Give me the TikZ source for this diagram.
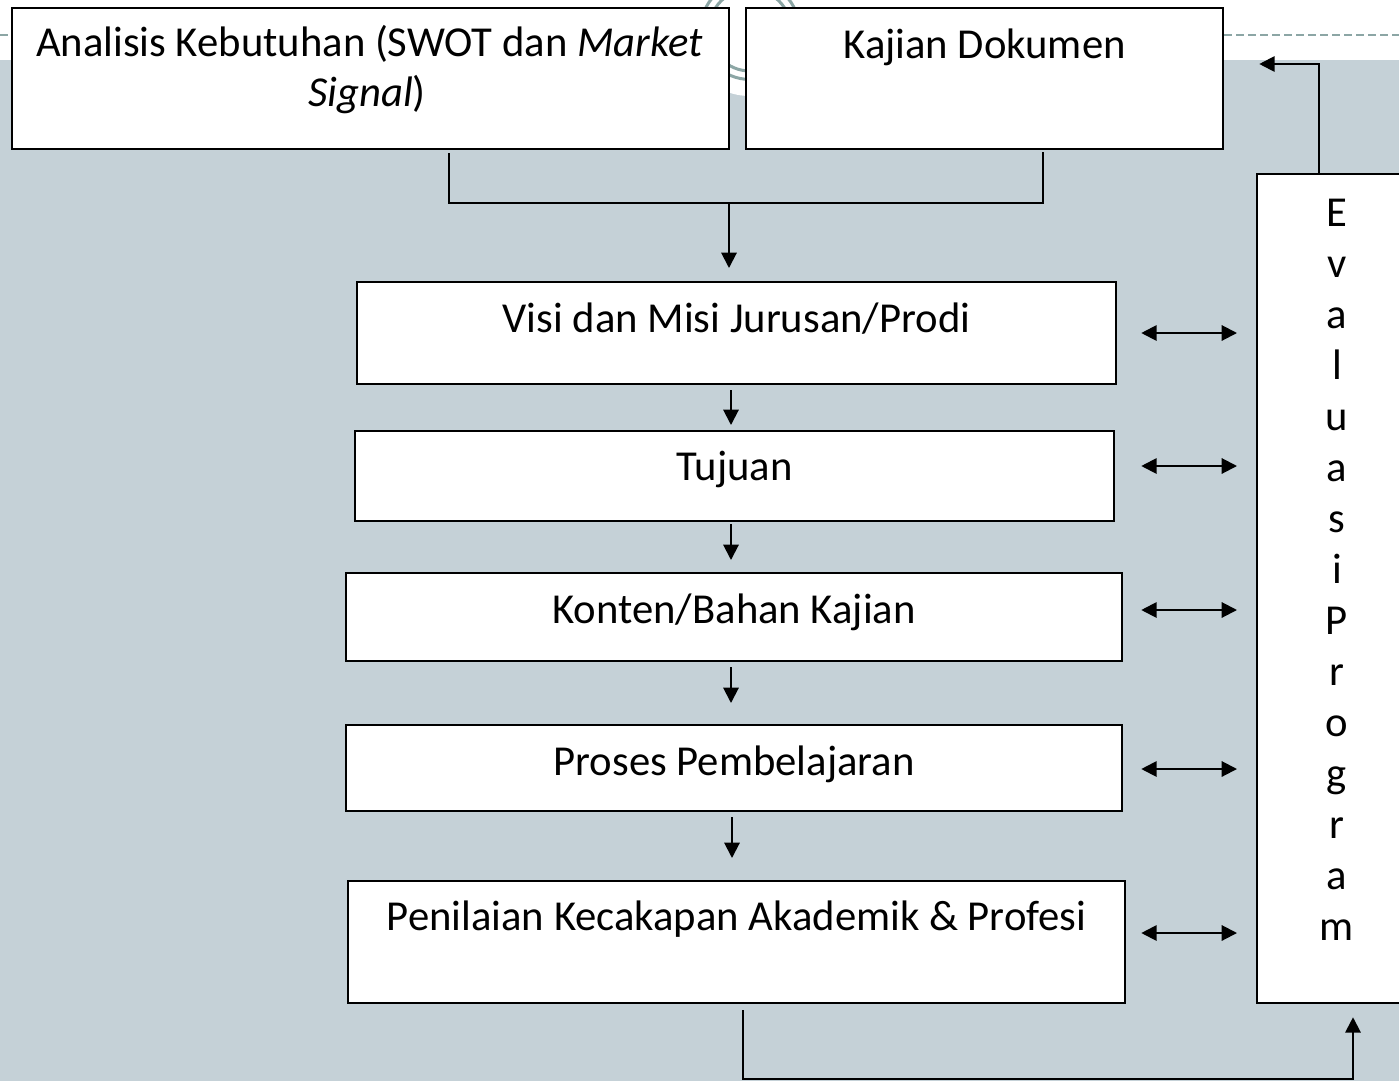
\documentclass[tikz,border=0pt]{standalone}
\usepackage{fontspec}
\setmainfont{Carlito}
\usetikzlibrary{arrows.meta}
\definecolor{bggray}{RGB}{197,209,215}
\definecolor{decoteal}{RGB}{140,166,165}
\begin{document}
\begin{tikzpicture}[x=0.75pt,y=-0.75pt,
  txt/.style={font=\fontsize{32}{38.25}\selectfont},
  box/.style={draw=black, line width=1.7pt, fill=white, inner sep=0pt, anchor=north west, txt},
  conn/.style={line width=1.5pt, black},
  arr/.style={conn, -{Triangle[length=11.5pt,width=11.5pt]}},
  darr/.style={conn, {Triangle[length=11.5pt,width=11.5pt]}-{Triangle[length=11.5pt,width=11.5pt]}}]
\clip (0,0) rectangle (1399,1081);
\fill[white] (0,0) rectangle (1399,1081);
\fill[bggray] (0,60) rectangle (1399,1081);
\draw[decoteal, line width=1.5pt, dash pattern=on 6pt off 3pt] (0,35) -- (1399,35);
\fill[white] (750,30) circle[radius=49.5pt];
\draw[decoteal, line width=2.25pt] (750,30) circle[radius=30.75pt];
\draw[decoteal, line width=2.25pt] (750,30) circle[radius=37.1pt];
% boxes
\node[box, minimum width=537.75pt, minimum height=105.75pt] (A) at (11,7) {};
\node[txt, anchor=base, inner sep=0pt] (A1) at (369.5,57) {Analisis Kebutuhan (SWOT dan \textit{Market}};
\node[txt, anchor=base, inner sep=0pt] (A2) at (367,107) {\textit{Signal})};
\node[box, minimum width=357.75pt, text height=37.5pt, text depth=68.25pt] (B) at (745,7) {Kajian Dokumen};
\node[box, minimum width=569.25pt, text height=37.5pt, text depth=39pt] (visi) at (356,281) {Visi dan Misi Jurusan/Prodi};
\node[box, minimum width=569.25pt, text height=36.75pt, text depth=30.75pt] (tujuan) at (354,430) {Tujuan};
\node[box, minimum width=582pt, text height=37.5pt, text depth=28.5pt] (konten) at (345,572) {Konten/Bahan Kajian};
\node[box, minimum width=582pt, text height=37.5pt, text depth=27pt] (proses) at (345,724) {Proses Pembelajaran};
\node[box, minimum width=582.75pt, text height=36.75pt, text depth=54.75pt] (pen) at (347,880) {Penilaian Kecakapan Akademik \& Profesi};
\node[box, minimum width=121.5pt, minimum height=621.75pt] (evalbox) at (1256,173) {};
\node[txt, anchor=north, inner sep=0pt, align=center] (evaltext) at (1337,199) {E\\v\\a\\l\\u\\a\\s\\i\\P\\r\\o\\g\\r\\a\\m};
% coordinates
\coordinate (jA) at (449,153);
\coordinate (jM) at (729,203);
\coordinate (jB) at (1043,152);
\coordinate (vx) at (731,0);
\coordinate (vx2) at (732,0);
\coordinate (d1) at (0,333);
\coordinate (d2) at (0,466);
\coordinate (d3) at (0,610);
\coordinate (d4) at (0,769);
\coordinate (d5) at (0,933);
\coordinate (k1) at (1319,64);
\coordinate (p1) at (743,1079);
\coordinate (p2) at (1353,1079);
% connectors
\draw[conn] (jA) |- (jM) -| (jB);
\draw[arr, shorten >=9.75pt] (jM) -- (jM |- visi.north);
\draw[arr, shorten <=3.75pt, shorten >=3.75pt] (vx |- visi.south) -- (vx |- tujuan.north);
\draw[arr, shorten <=1.5pt, shorten >=9pt] (vx |- tujuan.south) -- (vx |- konten.north);
\draw[arr, shorten <=3.75pt, shorten >=15.75pt] (vx |- konten.south) -- (vx |- proses.north);
\draw[arr, shorten <=3.75pt, shorten >=16.5pt] (vx2 |- proses.south) -- (vx2 |- pen.north);
\draw[darr, shorten <=18pt, shorten >=14.25pt] (visi.east |- d1) -- (evalbox.west |- d1);
\draw[darr, shorten <=19.5pt, shorten >=14.25pt] (tujuan.east |- d2) -- (evalbox.west |- d2);
\draw[darr, shorten <=13.5pt, shorten >=14.25pt] (konten.east |- d3) -- (evalbox.west |- d3);
\draw[darr, shorten <=13.5pt, shorten >=14.25pt] (proses.east |- d4) -- (evalbox.west |- d4);
\draw[darr, shorten <=11.25pt, shorten >=14.25pt] (pen.east |- d5) -- (evalbox.west |- d5);
\draw[arr, shorten >=26.25pt] (k1 |- evalbox.north) -- (k1) -- (k1 -| B.east);
\draw[arr, shorten <=4.5pt, shorten >=9.75pt] (p1 |- pen.south) -- (p1) -- (p2) -- (p2 |- evalbox.south);
\end{tikzpicture}
\end{document}
